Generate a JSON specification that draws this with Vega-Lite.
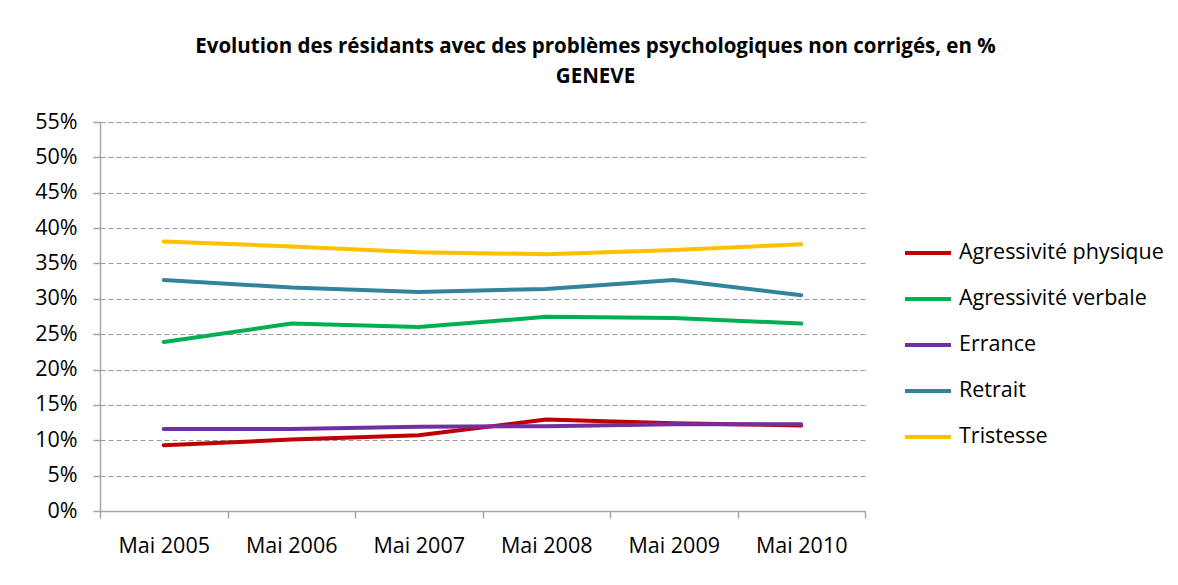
{
  "$schema": "https://vega.github.io/schema/vega-lite/v6.json",
  "width": 765,
  "height": 389,
  "autosize": {"type": "none"},
  "padding": {"left": 100, "top": 122, "right": 313, "bottom": 74},
  "background": "white",
  "title": {
    "text": ["Evolution des résidants avec des problèmes psychologiques non corrigés, en %", "GENEVE"],
    "font": "Open Sans",
    "fontSize": 20.5,
    "fontWeight": "bold",
    "color": "#000000",
    "anchor": "middle",
    "dx": 113,
    "offset": 24,
    "lineHeight": 30
  },
  "config": {
    "view": {"stroke": null},
    "font": "Open Sans"
  },
  "data": {
    "values": [
      {"serie": "Agressivité physique", "annee": "Mai 2005", "valeur": 0.093},
      {"serie": "Agressivité physique", "annee": "Mai 2006", "valeur": 0.101},
      {"serie": "Agressivité physique", "annee": "Mai 2007", "valeur": 0.107},
      {"serie": "Agressivité physique", "annee": "Mai 2008", "valeur": 0.1295},
      {"serie": "Agressivité physique", "annee": "Mai 2009", "valeur": 0.124},
      {"serie": "Agressivité physique", "annee": "Mai 2010", "valeur": 0.121},
      {"serie": "Agressivité verbale", "annee": "Mai 2005", "valeur": 0.239},
      {"serie": "Agressivité verbale", "annee": "Mai 2006", "valeur": 0.265},
      {"serie": "Agressivité verbale", "annee": "Mai 2007", "valeur": 0.26},
      {"serie": "Agressivité verbale", "annee": "Mai 2008", "valeur": 0.2745},
      {"serie": "Agressivité verbale", "annee": "Mai 2009", "valeur": 0.273},
      {"serie": "Agressivité verbale", "annee": "Mai 2010", "valeur": 0.265},
      {"serie": "Errance", "annee": "Mai 2005", "valeur": 0.116},
      {"serie": "Errance", "annee": "Mai 2006", "valeur": 0.116},
      {"serie": "Errance", "annee": "Mai 2007", "valeur": 0.119},
      {"serie": "Errance", "annee": "Mai 2008", "valeur": 0.12},
      {"serie": "Errance", "annee": "Mai 2009", "valeur": 0.1225},
      {"serie": "Errance", "annee": "Mai 2010", "valeur": 0.1225},
      {"serie": "Retrait", "annee": "Mai 2005", "valeur": 0.3265},
      {"serie": "Retrait", "annee": "Mai 2006", "valeur": 0.316},
      {"serie": "Retrait", "annee": "Mai 2007", "valeur": 0.3095},
      {"serie": "Retrait", "annee": "Mai 2008", "valeur": 0.314},
      {"serie": "Retrait", "annee": "Mai 2009", "valeur": 0.3265},
      {"serie": "Retrait", "annee": "Mai 2010", "valeur": 0.305},
      {"serie": "Tristesse", "annee": "Mai 2005", "valeur": 0.381},
      {"serie": "Tristesse", "annee": "Mai 2006", "valeur": 0.374},
      {"serie": "Tristesse", "annee": "Mai 2007", "valeur": 0.366},
      {"serie": "Tristesse", "annee": "Mai 2008", "valeur": 0.363},
      {"serie": "Tristesse", "annee": "Mai 2009", "valeur": 0.369},
      {"serie": "Tristesse", "annee": "Mai 2010", "valeur": 0.377}
    ]
  },
  "mark": {"type": "line", "strokeWidth": 4, "strokeCap": "round", "strokeJoin": "round"},
  "encoding": {
    "x": {
      "field": "annee",
      "type": "ordinal",
      "bandPosition": 0.5,
      "scale": {"type": "band", "paddingInner": 0, "paddingOuter": 0},
      "axis": {
        "title": null,
        "labelAngle": 0,
        "labelFont": "Open Sans",
        "labelFontSize": 21.5,
        "labelColor": "#000000",
        "labelPadding": 17,
        "tickBand": "extent",
        "tickSize": 7,
        "tickColor": "#A6A6A6",
        "domainColor": "#A6A6A6",
        "domainWidth": 1.5,
        "tickWidth": 1.5,
        "grid": false
      }
    },
    "y": {
      "field": "valeur",
      "type": "quantitative",
      "scale": {"domain": [0, 0.55], "nice": false},
      "axis": {
        "title": null,
        "values": [0, 0.05, 0.1, 0.15, 0.2, 0.25, 0.3, 0.35, 0.4, 0.45, 0.5, 0.55],
        "format": ".0%",
        "labelFont": "Open Sans",
        "labelFontSize": 21.5,
        "labelColor": "#000000",
        "labelPadding": 16,
        "tickSize": 7,
        "tickColor": "#A6A6A6",
        "domainColor": "#A6A6A6",
        "domainWidth": 1.5,
        "tickWidth": 1.5,
        "grid": true,
        "gridColor": "#999999",
        "gridDash": [5, 3],
        "gridWidth": 1
      }
    },
    "color": {
      "field": "serie",
      "type": "nominal",
      "scale": {
        "domain": ["Agressivité physique", "Agressivité verbale", "Errance", "Retrait", "Tristesse"],
        "range": ["#C00000", "#00B050", "#7030A0", "#31849B", "#FFC000"]
      },
      "legend": {
        "title": null,
        "orient": "none",
        "legendX": 803,
        "legendY": 106,
        "symbolType": "stroke",
        "symbolSize": 2116,
        "symbolStrokeWidth": 4,
        "labelFont": "Open Sans",
        "labelFontSize": 21.5,
        "labelColor": "#000000",
        "labelOffset": 6,
        "rowPadding": 10,
        "labelLimit": 400
      }
    }
  }
}
